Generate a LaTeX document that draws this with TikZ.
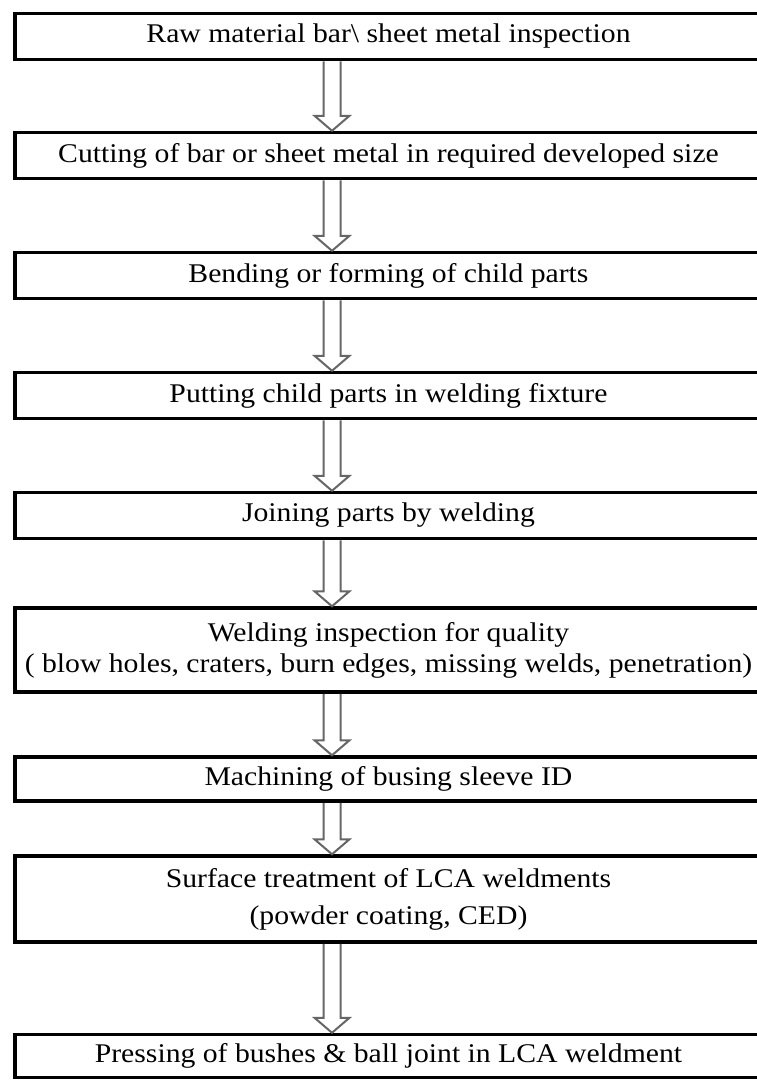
\documentclass[tikz,border=0pt]{standalone}
\usepackage{fontspec}
\setmainfont[FakeStretch=1.1]{Liberation Serif}
\usetikzlibrary{calc}
\tikzset{
  stepbox/.style={draw, line width=3.5pt, minimum width=747pt, inner sep=0pt,
    align=center, font=\fontsize{27}{31}\selectfont},
  flowline/.style={draw=black!60, line width=2pt, line join=miter},
}
% flecha hueca de caja #1 a caja #2
\newcommand{\flowarrow}[2]{%
  \draw[flowline] ($(#1.south)+(-65,0)$) -- ($(#2.north)+(-65,-15)$) -- ++(-9,0)
    -- ($(#2.north)+(-56.5,0)$) -- ($(#2.north)+(-39,-15)$) -- ++(-9,0)
    -- ($(#1.south)+(-48,0)$);}
\begin{document}
\begin{tikzpicture}[x=1pt, y={(0pt,-1pt)}]
    \useasboundingbox (0,0) rectangle (757,1080);
    % Cajas
    \node[stepbox, minimum height=46pt] (raw) at (388.5, 36.5) {Raw material bar\textbackslash\ sheet metal inspection};
    \node[stepbox, minimum height=46pt] (cut) at (388.5, 155.5) {Cutting of bar or sheet metal in required developed size};
    \node[stepbox, minimum height=46pt] (bend) at (388.5, 275.5) {Bending or forming of child parts};
    \node[stepbox, minimum height=46pt] (fixture) at (388.5, 395.5) {Putting child parts in welding fixture};
    \node[stepbox, minimum height=46pt] (join) at (388.5, 515.5) {Joining parts by welding};
    \node[stepbox, minimum height=84pt] (inspect) at (388.5, 650) {Welding inspection for quality\\( blow holes, craters, burn edges, missing welds, penetration)};
    \node[stepbox, minimum height=44pt] (machine) at (388.5, 779) {Machining of busing sleeve ID};
    \node[stepbox, minimum height=86pt] (surface) at (388.5, 899) {Surface treatment of LCA weldments\\[6pt](powder coating, CED)};
    \node[stepbox, minimum height=43pt] (press) at (388.5, 1056) {Pressing of bushes \& ball joint in LCA weldment};

    % Flechas
    \flowarrow{raw}{cut}
    \flowarrow{cut}{bend}
    \flowarrow{bend}{fixture}
    \flowarrow{fixture}{join}
    \flowarrow{join}{inspect}
    \flowarrow{inspect}{machine}
    \flowarrow{machine}{surface}
    \flowarrow{surface}{press}
\end{tikzpicture}
\end{document}
